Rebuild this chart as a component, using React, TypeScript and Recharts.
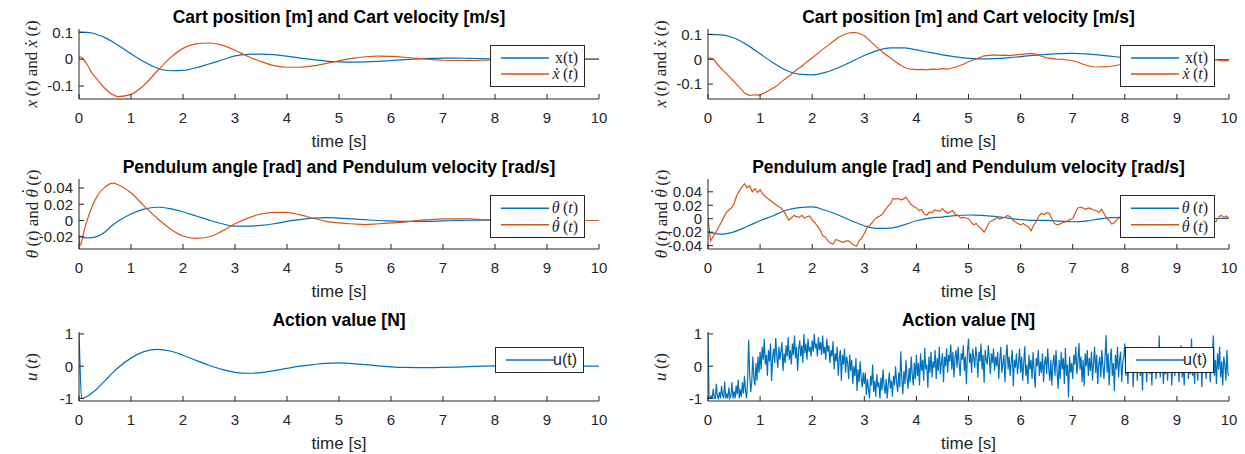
import React from 'react';
import { LineChart, Line, XAxis, YAxis } from 'recharts';

const BLUE = '#0072BD';
const ORANGE = '#D95319';
const INK = '#262626';
const SANS = '"Liberation Sans", Arial, Helvetica, sans-serif';
const SERIF = '"Liberation Serif", "DejaVu Serif", "Times New Roman", serif';

const timeTicks = [0, 1, 2, 3, 4, 5, 6, 7, 8, 9, 10];
const yTicksCart = [-0.1, 0, 0.1];
const yTicksPendLeft = [-0.02, 0, 0.02, 0.04];
const yTicksPendRight = [-0.04, -0.02, 0, 0.02, 0.04];
const yTicksAction = [-1, 0, 1];

// ---- left column: noise-free run (sample times, seconds)
const tLeft = [
  0, 0.02, 0.05, 0.1, 0.15, 0.25, 0.35, 0.5, 0.65, 0.75, 1, 1.25, 1.5, 1.75, 2, 2.25, 2.5, 2.75, 3, 3.25,
  3.5, 3.75, 4, 4.25, 4.5, 4.75, 5, 5.25, 5.5, 5.75, 6, 6.25, 6.5, 6.75, 7, 7.25, 7.5, 7.75, 8, 8.25, 8.5,
  8.75, 9, 9.25, 9.5, 9.75, 10,
];
const cartPosLeft = [
  0.1, 0.1, 0.1, 0.0998, 0.0993, 0.097, 0.091, 0.08, 0.064, 0.052, 0.02, -0.01, -0.033, -0.043, -0.042,
  -0.032, -0.018, -0.003, 0.012, 0.018, 0.019, 0.017, 0.011, 0.004, -0.002, -0.007, -0.01, -0.011, -0.01,
  -0.008, -0.005, -0.002, 0.001, 0.003, 0.004, 0.004, 0.003, 0.002, 0.001, 0, -0.001, -0.001, -0.001,
  -0.001, 0, 0, 0,
];
const cartVelLeft = [
  0.007, 0.009, 0.006, -0.005, -0.018, -0.052, -0.075, -0.109, -0.132, -0.139, -0.131, -0.097, -0.045,
  0.004, 0.04, 0.057, 0.06, 0.052, 0.033, 0.01, -0.009, -0.024, -0.03, -0.03, -0.025, -0.016, -0.006,
  0.003, 0.009, 0.011, 0.01, 0.007, 0.003, -0.001, -0.004, -0.005, -0.005, -0.004, -0.002, 0, 0.001,
  0.001, 0.001, 0.001, 0, 0, 0,
];
const pendAngLeft = [
  -0.019, -0.0195, -0.02, -0.021, -0.0215, -0.021, -0.0195, -0.014, -0.0055, -0.001, 0.008, 0.014,
  0.0163, 0.0145, 0.0105, 0.0055, 0.0005, -0.004, -0.007, -0.007, -0.006, -0.004, -0.001, 0.001, 0.003,
  0.0035, 0.003, 0.002, 0.001, 0, -0.0005, -0.001, -0.001, -0.001, -0.0005, 0, 0.0003, 0.0005, 0.0005,
  0.0004, 0.0002, 0.0001, 0, 0, 0, 0, 0,
];
const pendVelLeft = [
  -0.018, -0.031, -0.026, -0.012, -0.001, 0.017, 0.03, 0.041, 0.046, 0.044, 0.034, 0.018, 0.003, -0.01,
  -0.019, -0.022, -0.02, -0.013, -0.004, 0.003, 0.008, 0.01, 0.01, 0.007, 0.003, -0.001, -0.003, -0.004,
  -0.005, -0.004, -0.003, -0.002, 0, 0.001, 0.002, 0.002, 0.002, 0.001, 0.0005, 0, 0, 0, 0, 0, 0, 0, 0,
];
const actionLeft = [
  1, 0, -1, -0.98, -0.94, -0.83, -0.7, -0.45, -0.2, -0.05, 0.25, 0.45, 0.52, 0.47, 0.34, 0.18, 0.03, -0.1,
  -0.19, -0.22, -0.2, -0.14, -0.07, 0, 0.05, 0.09, 0.1, 0.08, 0.05, 0.01, -0.02, -0.04, -0.045, -0.045,
  -0.04, -0.03, -0.015, 0, 0.01, 0.02, 0.02, 0.015, 0.01, 0.005, 0, 0, 0,
];

// ---- right column: noisy run
const tRight = [
  0, 0.25, 0.5, 0.75, 1, 1.25, 1.5, 1.75, 2, 2.25, 2.5, 2.75, 3, 3.25, 3.5, 3.75, 4, 4.25, 4.5, 4.75, 5,
  5.25, 5.5, 5.75, 6, 6.25, 6.5, 6.75, 7, 7.25, 7.5, 7.75, 8, 8.25, 8.5, 8.75, 9, 9.25, 9.5, 9.75, 10,
];
const cartPosRight = [
  0.1, 0.098, 0.086, 0.058, 0.022, -0.014, -0.044, -0.06, -0.063, -0.053, -0.034, -0.01, 0.015, 0.035,
  0.046, 0.046, 0.038, 0.028, 0.018, 0.01, 0.004, 0.002, 0.003, 0.006, 0.011, 0.016, 0.02, 0.023, 0.024,
  0.022, 0.018, 0.012, 0.006, 0.001, -0.002, -0.003, -0.003, -0.002, -0.001, -0.001, -0.001,
];
const pendAngRight = [
  -0.0195, -0.023, -0.0195, -0.0115, -0.003, 0.0045, 0.0125, 0.0165, 0.0175, 0.0125, 0.0055, -0.003,
  -0.0105, -0.0145, -0.014, -0.0095, -0.003, 0.001, 0.0025, 0.0045, 0.0055, 0.005, 0.0035, 0.001, -0.0015,
  -0.0025, -0.0025, -0.0035, -0.0045, -0.0035, -0.0005, 0.0015, 0.0025, 0.002, 0.001, 0, -0.0005, -0.0005,
  0, 0.0003, 0.0005,
];
const cartVelRightStep = 0.1;
const cartVelRight = [
  0.007, 0.002, -0.025, -0.048, -0.068, -0.09, -0.112, -0.136, -0.146, -0.143,
  -0.144, -0.134, -0.122, -0.11, -0.092, -0.076, -0.06, -0.042, -0.028, -0.01,
  0.005, 0.022, 0.04, 0.055, 0.072, 0.088, 0.099, 0.106, 0.108, 0.105,
  0.095, 0.076, 0.056, 0.038, 0.02, 0.006, -0.01, -0.024, -0.035, -0.04,
  -0.042, -0.041, -0.043, -0.04, -0.041, -0.038, -0.04, -0.034, -0.028, -0.02,
  -0.01, -0.002, 0.006, 0.014, 0.016, 0.018, 0.016, 0.017, 0.015, 0.018,
  0.02, 0.022, 0.024, 0.021, 0.012, 0.006, 0.004, 0.001, 0, -0.003,
  -0.006, -0.012, -0.02, -0.026, -0.03, -0.031, -0.029, -0.03, -0.026, -0.022,
  -0.02, -0.018, -0.019, -0.016, -0.014, -0.012, -0.012, -0.01, -0.008, -0.007,
  -0.006, -0.004, -0.003, -0.004, -0.002, -0.001, 0.002, 0, -0.004, -0.006,
  -0.004,
];
const pendVelRightStep = 0.05;
const pendVelRight = [
  0, -0.033, -0.026, -0.02, -0.013, -0.006, 0.002, 0.009, 0.013, 0.016,
  0.022, 0.034, 0.041, 0.047, 0.052, 0.046, 0.049, 0.04, 0.045, 0.039,
  0.043, 0.037, 0.033, 0.03, 0.027, 0.024, 0.021, 0.018, 0.016, 0.012,
  0.005, -0.002, 0.001, 0.005, 0.003, 0.002, 0.005, 0.001, 0.003, 0.004,
  -0.002, -0.006, -0.011, -0.016, -0.025, -0.027, -0.033, -0.036, -0.038, -0.031,
  -0.032, -0.034, -0.035, -0.033, -0.033, -0.036, -0.039, -0.041, -0.033, -0.029,
  -0.022, -0.014, -0.01, -0.006, -0.001, 0.002, 0.004, 0.007, 0.013, 0.018,
  0.022, 0.03, 0.029, 0.03, 0.028, 0.029, 0.032, 0.026, 0.021, 0.018,
  0.016, 0.012, 0.014, 0.007, 0.005, 0.01, 0.009, 0.013, 0.012, 0.011,
  0.015, 0.011, 0.008, 0.01, 0.012, 0.006, 0.005, 0.001, 0.002, 0.001,
  0, -0.005, -0.009, -0.007, -0.012, -0.015, -0.02, -0.013, -0.005, -0.003,
  -0.001, 0.002, -0.001, 0.001, 0.002, 0.005, 0.003, -0.002, -0.005, -0.007,
  -0.009, -0.007, -0.01, -0.012, -0.018, -0.01, -0.004, 0.004, 0.008, 0.006,
  0.009, 0.008, 0, -0.007, -0.009, -0.008, -0.006, -0.005, -0.003, -0.001,
  0, 0.009, 0.016, 0.017, 0.016, 0.014, 0.016, 0.015, 0.013, 0.012,
  0.009, 0.014, 0.008, 0.001, -0.003, -0.008, -0.006, -0.001, 0.002, -0.004,
  -0.002, -0.004, -0.001, 0.002, 0, -0.003, -0.005, -0.002, 0.001, 0.003,
  0.001, -0.002, -0.004, -0.001, 0.002, 0.004, 0.001, -0.003, -0.002, 0,
  0.002, -0.001, -0.004, -0.006, -0.003, 0, 0.002, -0.001, -0.003, -0.002,
  0.001, 0.003, 0, -0.003, -0.005, -0.004, 0.002, 0.005, 0.002, 0.004,
  0,
];
const actionRightStep = 0.02;
const actionRight = [
  // 0 s
  1, -1, -1, -0.92, -1, -0.7, -1, -1, -0.55, -0.95, -1, -0.8, -1, -0.62, -0.9, -1, -0.48, -1, -0.85, -1,
  -0.66, -1, -0.93, -0.5, -1, -0.78, -1, -0.6, -0.88, -0.42, -1, -0.72, -0.95, -0.5, -0.85, -0.3, -0.75, -1,
  -0.45, 0.82, -0.25, -0.8, -0.5, 0.3, -0.35, -0.6, 0.1, -0.45, 0.3, -0.2,
  // 1 s
  0.45, -0.1, 0.6, 0.2, 0.85, 0.05, 0.35, -0.3, 0.5, 0.15, 0.7, -0.46, 0.25, 0.55, 0.1, 0.87, 0.3, -0.05,
  0.6, 0.2, 0.45, 0.75, -0.15, 0.4, 0.1, 0.65, 0.3, 0.9, 0.2, 0.5, 0.05, 0.7, 0.35, 0.95, 0.25, 0.6, -0.15,
  0.5, 0.8, 0.3, 0.65, 0.1, 1, 0.4, 0.7, 0.2, 0.85, 0.45, 0.6, 0.3,
  // 2 s
  0.8, 0.45, 1, 0.55, 0.7, 0.3, 0.9, 0.5, 0.75, 0.35, 0.95, 0.4, 0.6, 0.2, 0.85, 0.45, 0.65, 0.1, 0.5, 0.3,
  0.77, -0.1, 0.4, 0.15, 0.6, -0.3, 0.25, 0.5, -0.46, 0.35, 0.05, 0.55, -0.2, 0.3, 0.1, -0.4, 0.36, -0.15,
  0.2, -0.55, 0, -0.3, 0.25, -0.77, -0.1, -0.5, 0.15, -0.35, -0.65, -0.2,
  // 3 s
  -0.55, -0.2, -0.9, -0.4, -0.7, -1, -0.3, -0.6, 0.05, -0.8, -0.45, -0.95, -0.25, -0.65, -0.5, -1, -0.35,
  -0.75, -0.1, -0.6, -0.85, -0.4, -1, -0.55, -0.2, -0.7, -0.45, -0.95, -0.3, -0.6, 0, -0.5, -0.8, -0.2,
  -0.65, 0.46, -0.4, -0.87, -0.15, -0.55, 0.2, -0.35, -0.7, -0.05, -0.5, 0.3, -0.25, -0.6, 0.1, -0.4,
  // 4 s
  0.35, -0.3, 0.1, -0.6, 0.4, -0.15, 0.2, -0.45, 0.56, -0.1, 0.05, -0.67, 0.3, -0.2, 0.45, -0.35, 0.15,
  -0.05, 0.5, -0.4, 0.25, -0.15, 0.6, -0.25, 0.1, 0.4, -0.5, 0.3, 0, 0.55, -0.2, 0.35, 0.15, 0.67, -0.1,
  0.45, -0.35, 0.25, 0.5, -0.05, 0.6, 0.1, -0.3, 0.4, 0.2, 0.65, -0.15, 0.3, -0.56, 0.45,
  // 5 s
  0.85, 0.1, 0.4, -0.2, 0.55, 0.25, -0.05, 0.6, 0.3, -0.35, 0.45, 0.15, 0.7, -0.1, 0.35, -0.51, 0.5, 0.2,
  0.05, 0.65, 0.25, -0.25, 0.4, 0.1, 0.55, -0.15, 0.3, 0, 0.45, -0.4, 0.2, 0.6, -0.2, 0.1, 0.35, -0.5, 0.25,
  0.67, -0.1, 0.3, -0.3, 0.15, 0.5, -0.62, 0.2, -0.05, 0.4, -0.25, 0.1, 0.55,
  // 6 s
  -0.2, 0.3, -0.45, 0.1, 0.62, -0.3, 0.05, -0.55, 0.35, -0.1, 0.2, -0.4, 0.45, -0.15, -0.67, 0.25, 0, 0.5,
  -0.3, 0.15, -0.2, 0.4, -0.5, 0.1, 0.3, -0.25, 0.55, -0.05, -0.45, 0.2, -0.6, 0.1, 0.35, -0.3, 0.5, -0.15,
  -0.7, 0.2, -0.4, 0.45, -0.1, 0.25, -0.55, 0.56, -0.3, 0.05, -0.97, 0.3, -0.2, 0.1,
  // 7 s
  -0.4, 0.35, 0.05, 0.6, -0.25, 0.15, 0.72, -0.1, 0.3, -0.5, 0.2, -0.62, 0.4, 0, 0.5, -0.3, 0.25, -0.15,
  0.45, -0.45, 0.1, 0.6, -0.2, 0.35, -0.55, 0.05, 0.3, -0.35, 0.5, 0, -0.4, 0.25, 0.97, -0.2, 0.4, -0.6,
  0.15, 0.55, -0.3, 0.1, -0.77, 0.35, -0.1, 0.6, -0.35, 0.2, 0.45, -0.5, 0.1, 0.3,
  // 8 s
  0.7, -0.3, 0.15, -0.55, 0.4, 0, -0.2, 0.5, -0.65, 0.25, -0.1, 0.35, -0.45, 0.6, 0.05, -0.3, 0.2, -0.75,
  0.4, -0.15, 0.3, -0.5, 0.1, 0.55, -0.25, 0.2, -0.6, 0.45, -0.05, 0.3, -0.4, 0.15, -0.2, 0.95, -0.35, 0.25,
  0.5, -0.55, 0.1, -0.25, 0.4, -0.45, 0.2, -0.1, 0.6, -0.6, 0.05, 0.35, -0.3, 0.15,
  // 9 s
  -0.2, 0.45, -0.5, 0.2, 0.65, -0.35, 0.1, -0.6, 0.3, -0.1, 0.5, -0.4, 0.15, -0.25, 0.85, -0.3, 0.05,
  -0.55, 0.35, 0.1, -0.45, 0.4, -0.15, 0.25, -0.65, 0.55, -0.05, 0.3, -0.4, 0.2, -0.2, 0.45, -0.5, 0.1,
  0.35, 0.95, -0.3, 0.2, -0.55, 0.4, -0.1, 0.6, -0.35, 0.15, -0.6, 0.3, 0.05, -0.45, 0.5, -0.25,
  // 10 s
  -0.3,
];

type Pt = { t: number; y: number };
const zipTime = (t: number[], v: number[]): Pt[] => v.map((y, i) => ({ t: t[i], y }));
const onGrid = (step: number, v: number[]): Pt[] => v.map((y, i) => ({ t: Math.round(i * step * 1000) / 1000, y }));

type Curve = { key: string; color: string; data: Pt[]; curve: 'monotone' | 'linear' };
type LegendItem = { color: string; label: React.ReactNode; font: string };
type LegendSpec = { x: number; y: number; w: number; h: number; items: LegendItem[] };

interface PanelProps {
  px: number;
  py: number;
  box: [number, number, number, number];
  yDomain: [number, number];
  yTicks: number[];
  title: string;
  yLabel: React.ReactNode;
  curves: Curve[];
  legend: LegendSpec;
}

const CW = 620;
const CH = 150;
const XH = 51;

// italic letter with a dot accent on top (LaTeX \dot{}); the dot is a small disc, not a glyph
function Dotted({ ch, lift, shift }: { ch: string; lift: number; shift: number }) {
  return (
    <>
      <i>{ch}</i>
      <span
        style={{
          display: 'inline-block', position: 'relative', width: 0, height: '0.13em', verticalAlign: `${lift}em`,
        }}
      >
        <span
          style={{
            position: 'absolute', left: `${shift}em`, top: 0, width: '0.13em', height: '0.13em',
            borderRadius: '50%', background: 'currentColor',
          }}
        />
      </span>
    </>
  );
}
const XDot = () => <Dotted ch="x" lift={0.56} shift={-0.26} />;
const ThDot = () => <Dotted ch="θ" lift={0.8} shift={-0.2} />;

function LegendBox({ x, y, w, h, items }: LegendSpec) {
  const pad = items.length > 1 ? 4 : 0;
  const rowH = (h - 2 - 2 * pad) / items.length;
  return (
    <div
      style={{
        position: 'absolute', left: x, top: y, width: w, height: h, boxSizing: 'border-box',
        border: `1px solid ${INK}`, background: '#fff',
      }}
    >
      <svg width={w - 2} height={h - 2} style={{ position: 'absolute', left: 0, top: 0 }}>
        {items.map((it, i) => {
          const cy = pad + rowH * (i + 0.5);
          return <line key={i} x1={10} x2={58} y1={cy} y2={cy} stroke={it.color} strokeWidth={1.3} />;
        })}
      </svg>
      {items.map((it, i) => {
        const cy = pad + rowH * (i + 0.5);
        return (
          <div
            key={i}
            style={{
              position: 'absolute', right: 6, top: cy - 8, height: 16, lineHeight: '16px',
              fontSize: 16, fontFamily: it.font, whiteSpace: 'nowrap', color: INK,
            }}
          >
            {it.label}
          </div>
        );
      })}
    </div>
  );
}

function Panel(p: PanelProps) {
  const [bl, bt, br, bb] = p.box;
  const margin = { top: bt - p.py, right: p.px + CW - br, bottom: p.py + CH - bb - XH, left: 0 };
  const midY = (bt + bb) / 2;
  return (
    <>
      <div style={{ position: 'absolute', left: p.px, top: p.py }}>
        <LineChart width={CW} height={CH} margin={margin}>
          <XAxis
            xAxisId="b" type="number" dataKey="t" domain={[0, 10]} ticks={timeTicks} interval={0}
            allowDataOverflow height={XH} stroke={INK} tickSize={-5} tickMargin={18}
            tick={{ fill: INK, fontSize: 15 }}
          />
          <XAxis
            xAxisId="top" orientation="top" type="number" dataKey="t" domain={[0, 10]} ticks={timeTicks}
            interval={0} allowDataOverflow height={0} stroke={INK} tickSize={-5} tick={false}
          />
          <YAxis
            yAxisId="l" type="number" domain={p.yDomain} ticks={p.yTicks} interval={0} allowDataOverflow
            width={bl - p.px} stroke={INK} tickSize={-5} tickMargin={11} tick={{ fill: INK, fontSize: 15 }}
          />
          <YAxis
            yAxisId="r" orientation="right" type="number" domain={p.yDomain} ticks={p.yTicks} interval={0}
            allowDataOverflow width={0} stroke={INK} tickSize={-5} tick={false}
          />
          {p.curves.map((c) => (
            <Line
              key={c.key} xAxisId="b" yAxisId="l" data={c.data} dataKey="y" type={c.curve}
              stroke={c.color} strokeWidth={1.2} dot={false} activeDot={false} isAnimationActive={false}
            />
          ))}
        </LineChart>
      </div>
      <div
        style={{
          position: 'absolute', left: bl, width: br - bl, top: bt - 23, height: 22, lineHeight: '22px',
          textAlign: 'center', fontWeight: 700, fontSize: 17.5, color: '#000', whiteSpace: 'nowrap',
        }}
      >
        {p.title}
      </div>
      <div
        style={{
          position: 'absolute', left: bl, width: br - bl, top: bb + 32, height: 22, lineHeight: '22px',
          textAlign: 'center', fontSize: 17, color: INK,
        }}
      >
        time [s]
      </div>
      <div
        style={{
          position: 'absolute', left: bl - 47, top: midY, transform: 'translate(-50%, -50%) rotate(-90deg)',
          fontFamily: SERIF, fontSize: 17, color: INK, whiteSpace: 'nowrap', lineHeight: '18px',
        }}
      >
        {p.yLabel}
      </div>
      <LegendBox {...p.legend} />
    </>
  );
}

const th = '\u2009';
const cartLabel = (
  <span><i>x</i>{th}(<i>t</i>) and <XDot />{th}(<i>t</i>)</span>
);
const pendLabel = (
  <span><i>θ</i>{th}(<i>t</i>) and <ThDot />{th}(<i>t</i>)</span>
);
const actionLabel = (
  <span><i>u</i>{th}(<i>t</i>)</span>
);
const cartLegend: LegendItem[] = [
  { color: BLUE, label: 'x(t)', font: SERIF },
  { color: ORANGE, label: <span><XDot />{th}(<i>t</i>)</span>, font: SERIF },
];
const pendLegend: LegendItem[] = [
  { color: BLUE, label: <span><i>θ</i>{th}(<i>t</i>)</span>, font: SERIF },
  { color: ORANGE, label: <span><ThDot />{th}(<i>t</i>)</span>, font: SERIF },
];
const actionLegend: LegendItem[] = [{ color: BLUE, label: 'u(t)', font: SANS }];

const CART_TITLE = 'Cart position [m] and Cart velocity [m/s]';
const PEND_TITLE = 'Pendulum angle [rad] and Pendulum velocity [rad/s]';
const ACTION_TITLE = 'Action value [N]';

export default function App() {
  const panels: PanelProps[] = [
    {
      px: 0, py: 0, box: [79, 29, 599, 99], yDomain: [-0.148, 0.112], yTicks: yTicksCart,
      title: CART_TITLE, yLabel: cartLabel,
      curves: [
        { key: 'x', color: BLUE, data: zipTime(tLeft, cartPosLeft), curve: 'monotone' },
        { key: 'xd', color: ORANGE, data: zipTime(tLeft, cartVelLeft), curve: 'monotone' },
      ],
      legend: { x: 490, y: 45, w: 95, h: 42, items: cartLegend },
    },
    {
      px: 622, py: 0, box: [708, 29, 1229, 99], yDomain: [-0.16, 0.122], yTicks: yTicksCart,
      title: CART_TITLE, yLabel: cartLabel,
      curves: [
        { key: 'x', color: BLUE, data: zipTime(tRight, cartPosRight), curve: 'monotone' },
        { key: 'xd', color: ORANGE, data: onGrid(cartVelRightStep, cartVelRight), curve: 'linear' },
      ],
      legend: { x: 1120, y: 45, w: 95, h: 42, items: cartLegend },
    },
    {
      px: 0, py: 152, box: [79, 179, 599, 249], yDomain: [-0.035, 0.051], yTicks: yTicksPendLeft,
      title: PEND_TITLE, yLabel: pendLabel,
      curves: [
        { key: 'th', color: BLUE, data: zipTime(tLeft, pendAngLeft), curve: 'monotone' },
        { key: 'thd', color: ORANGE, data: zipTime(tLeft, pendVelLeft), curve: 'monotone' },
      ],
      legend: { x: 490, y: 195, w: 95, h: 43, items: pendLegend },
    },
    {
      px: 622, py: 152, box: [708, 179, 1229, 249], yDomain: [-0.045, 0.059], yTicks: yTicksPendRight,
      title: PEND_TITLE, yLabel: pendLabel,
      curves: [
        { key: 'th', color: BLUE, data: zipTime(tRight, pendAngRight), curve: 'monotone' },
        { key: 'thd', color: ORANGE, data: onGrid(pendVelRightStep, pendVelRight), curve: 'linear' },
      ],
      legend: { x: 1120, y: 195, w: 95, h: 43, items: pendLegend },
    },
    {
      px: 0, py: 304, box: [79, 332, 599, 401], yDomain: [-1.08, 1.06], yTicks: yTicksAction,
      title: ACTION_TITLE, yLabel: actionLabel,
      curves: [{ key: 'u', color: BLUE, data: zipTime(tLeft, actionLeft), curve: 'monotone' }],
      legend: { x: 495, y: 347, w: 89, h: 26, items: actionLegend },
    },
    {
      px: 622, py: 304, box: [708, 332, 1229, 401], yDomain: [-1.08, 1.06], yTicks: yTicksAction,
      title: ACTION_TITLE, yLabel: actionLabel,
      curves: [{ key: 'u', color: BLUE, data: onGrid(actionRightStep, actionRight), curve: 'linear' }],
      legend: { x: 1125, y: 347, w: 89, h: 26, items: actionLegend },
    },
  ];

  return (
    <div
      style={{
        position: 'relative', width: 1245, height: 454, background: '#fff', overflow: 'hidden',
        fontFamily: SANS, color: INK,
      }}
    >
      <style>{'body{margin:0}'}</style>
      {panels.map((p, i) => (
        <Panel key={i} {...p} />
      ))}
    </div>
  );
}
